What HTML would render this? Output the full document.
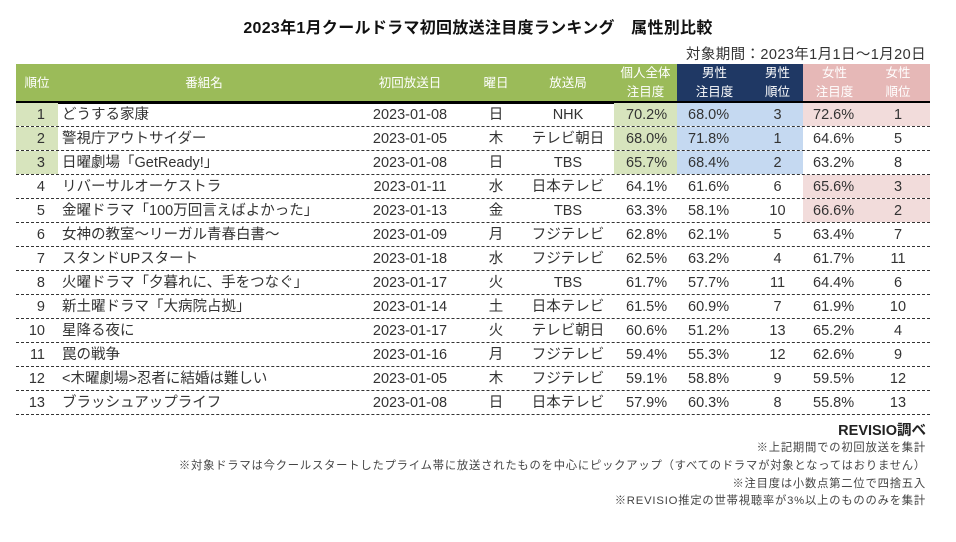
<!DOCTYPE html>
<html><head><meta charset="utf-8">
<style>
body{margin:0;width:956px;height:542px;background:#fff;position:relative;overflow:hidden;font-family:"Liberation Sans","Noto Sans CJK JP",sans-serif;color:#333}
.abs{position:absolute}
#title{left:0;width:956px;top:14px;text-align:center;font-weight:bold;font-size:16px;letter-spacing:0.3px;color:#111}
#period{right:30px;top:43px;font-size:14.5px;letter-spacing:0.4px;color:#333}
.hc{position:absolute;top:64px;height:38px;color:#fff;font-size:12.5px;display:flex;align-items:center;justify-content:center;text-align:center;line-height:19px}
#hline{left:16px;top:101px;width:914px;height:3px;background:#000}
.c{position:absolute;height:23px;line-height:24px;font-size:14.5px;white-space:nowrap;color:#333}
.rl{position:absolute;left:16px;width:914px;border-bottom:1px dashed #333;height:0}
.note{position:absolute;right:30px;font-size:11.3px;letter-spacing:0.8px;color:#444;white-space:nowrap}
</style></head><body>
<div id="title" class="abs">2023年1月クールドラマ初回放送注目度ランキング　属性別比較</div>
<div id="period" class="abs">対象期間：2023年1月1日～1月20日</div>
<div class="hc" style="left:16px;width:42px;background:#9bbb59">順位</div>
<div class="hc" style="left:58px;width:292px;background:#9bbb59">番組名</div>
<div class="hc" style="left:350px;width:120px;background:#9bbb59">初回放送日</div>
<div class="hc" style="left:470px;width:52px;background:#9bbb59">曜日</div>
<div class="hc" style="left:522px;width:92px;background:#9bbb59">放送局</div>
<div class="hc" style="left:614px;width:63px;background:#9bbb59">個人全体<br>注目度</div>
<div class="hc" style="left:677px;width:75px;background:#1f3864">男性<br>注目度</div>
<div class="hc" style="left:752px;width:51px;background:#1f3864">男性<br>順位</div>
<div class="hc" style="left:803px;width:63px;background:#e6b8b7">女性<br>注目度</div>
<div class="hc" style="left:866px;width:64px;background:#e6b8b7">女性<br>順位</div>
<div id="hline" class="abs"></div>
<div id="rows"></div>
<div class="abs" style="right:30px;top:419px;font-size:14.5px;font-weight:bold;color:#222">REVISIO調べ</div>
<div class="note" style="top:439px">※上記期間での初回放送を集計</div>
<div class="note" style="top:457px">※対象ドラマは今クールスタートしたプライム帯に放送されたものを中心にピックアップ（すべてのドラマが対象となってはおりません）</div>
<div class="note" style="top:475px">※注目度は小数点第二位で四捨五入</div>
<div class="note" style="top:492px">※REVISIO推定の世帯視聴率が3%以上のもののみを集計</div>
<script>
const names=["どうする家康","警視庁アウトサイダー","日曜劇場「GetReady!」","リバーサルオーケストラ","金曜ドラマ「100万回言えばよかった」","女神の教室～リーガル青春白書～","スタンドUPスタート","火曜ドラマ「夕暮れに、手をつなぐ」","新土曜ドラマ「大病院占拠」","星降る夜に","罠の戦争","<木曜劇場>忍者に結婚は難しい","ブラッシュアップライフ"];
const dates=["2023-01-08","2023-01-05","2023-01-08","2023-01-11","2023-01-13","2023-01-09","2023-01-18","2023-01-17","2023-01-14","2023-01-17","2023-01-16","2023-01-05","2023-01-08"];
const days=["日","木","日","水","金","月","水","火","土","火","月","木","日"];
const stations=["NHK","テレビ朝日","TBS","日本テレビ","TBS","フジテレビ","フジテレビ","TBS","日本テレビ","テレビ朝日","フジテレビ","フジテレビ","日本テレビ"];
const overall=[70.2,68.0,65.7,64.1,63.3,62.8,62.5,61.7,61.5,60.6,59.4,59.1,57.9];
const male=[68.0,71.8,68.4,61.6,58.1,62.1,63.2,57.7,60.9,51.2,55.3,58.8,60.3];
const maleRank=[3,1,2,6,10,5,4,11,7,13,12,9,8];
const female=[72.6,64.6,63.2,65.6,66.6,63.4,61.7,64.4,61.9,65.2,62.6,59.5,55.8];
const femaleRank=[1,5,8,3,2,7,11,6,10,4,9,12,13];
const root=document.getElementById('rows');
const top0=103,rh=24;
function cell(x,w,y,txt,align,bg,pad){
  const d=document.createElement('div');
  d.className='c';
  d.style.left=x+'px';d.style.width=w+'px';d.style.top=y+'px';
  d.style.textAlign=align;
  if(bg)d.style.background=bg;
  if(pad)d.style[align==='right'?'paddingRight':'paddingLeft']=pad+'px',d.style.width=(w-pad)+'px';
  d.textContent=txt;
  root.appendChild(d);
  return d;
}
for(let i=0;i<names.length;i++){
  const y=top0+i*rh;
  const top3=i<3;
  let d;
  d=cell(16,42,y,String(i+1),'right',top3?'#d7e4bd':null,13);
  
  
  d=cell(58,292,y,names[i],'left',null,4);
  
  
  d=cell(350,120,y,dates[i],'center');
  
  
  d=cell(470,52,y,days[i],'center');
  
  
  d=cell(522,92,y,stations[i],'center');
  
  
  d=cell(614,63,y,overall[i].toFixed(1)+'%','left',top3?'#d7e4bd':null,12);
  
  
  const mHi=maleRank[i]<=3?'#c5d9f1':null;
  d=cell(677,75,y,male[i].toFixed(1)+'%','left',mHi,11);
  
  
  d=cell(752,51,y,String(maleRank[i]),'center',mHi);
  
  
  const fHi=femaleRank[i]<=3?'#f2dcdb':null;
  d=cell(803,63,y,female[i].toFixed(1)+'%','left',fHi,10);
  
  
  d=cell(866,64,y,String(femaleRank[i]),'center',fHi);
  
  
  const l=document.createElement('div');
  l.className='rl';l.style.top=(y+23)+'px';
  
  
  root.appendChild(l);
}
</script>
</body></html>
